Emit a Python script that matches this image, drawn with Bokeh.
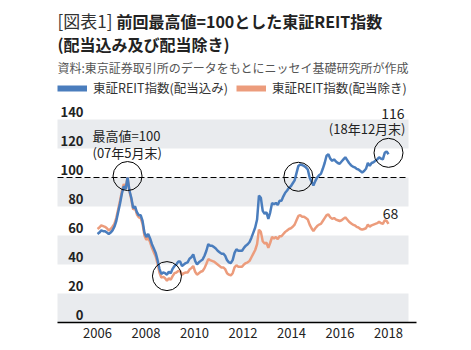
from bokeh.plotting import figure
from bokeh.models import (Range1d, BoxAnnotation, Label, Legend, LegendItem, ColumnDataSource)
from bokeh.core.properties import value
from bokeh.embed import file_html
from bokeh.resources import INLINE

# ---------------- data (monthly, Jan 2006 .. Dec 2018) ----------------
month_index = list(range(156))
with_dividends = [
    61, 62, 63.5, 63, 63, 62, 61, 62, 63.5, 66, 70, 76,
    82, 89, 94, 92, 100, 91, 86, 79, 80, 76, 74, 74,
    70, 62, 59, 61, 58, 54, 51, 48, 43, 37, 33.5, 34.5,
    34, 33, 35, 34, 37, 39, 40, 42, 42, 39, 40, 41,
    41.5, 44, 45, 47, 42.5, 40, 41.5, 42.5, 43.5, 46, 49.5, 54,
    53, 53, 52, 51, 49.5, 48.5, 47.5, 47.5, 46, 43, 41.5, 41,
    43, 48, 50.5, 49.5, 49.5, 49.5, 51.5, 53, 54, 55.5, 58.5, 62,
    65.5, 71, 87.5, 86, 77, 75, 76, 71.5, 76, 82.5, 81.5, 82.5,
    81, 84, 84, 87, 89.5, 91, 93, 94, 96, 98, 103, 108,
    109, 108.5, 108, 107, 105.5, 100, 97, 94.5, 97.5, 100, 101.5, 102.5,
    106, 110, 115, 116, 113, 111.5, 112.5, 111, 110, 109.5, 111, 112.5,
    114, 112, 110, 108.5, 107.5, 107, 106, 105.5, 104.5, 103.5, 104.5, 106,
    110, 108, 110, 110.5, 111.5, 112.5, 114, 113, 112.5, 117, 118, 116,
]
ex_dividends = [
    64.5, 65.5, 67, 66.5, 66, 65, 63.5, 64.5, 66, 68, 72, 78,
    84, 90.5, 95.5, 93, 100, 90.5, 85, 78, 79, 74.5, 72.5, 72,
    68, 60, 57, 58.5, 55.5, 51.5, 48.5, 45.5, 40.5, 34.5, 31, 31.5,
    30.5, 28.8, 30.5, 29.5, 32, 34, 34.5, 35.5, 35.5, 33, 34, 34.5,
    34.5, 36.5, 37.5, 39, 35, 33, 34, 35, 35.5, 37.5, 40.5, 43.7,
    43, 42.5, 42, 41, 40, 39, 38, 38, 36.8, 34, 33, 32.5,
    34, 38, 39.5, 38.5, 38.5, 38.5, 40, 41, 41.5, 42.5, 45, 47.5,
    50, 54, 64, 62.5, 56, 54.5, 55, 51.5, 55, 59, 58, 59,
    57.5, 59.5, 59.5, 61, 62.5, 63.5, 64.5, 65, 66, 67.5, 70.5, 73.5,
    74, 73, 73, 72, 71, 67.5, 65, 63, 65, 66.5, 67.5, 68,
    70, 72, 74, 74.5, 72.5, 71.5, 72, 71, 70.5, 70, 70.5, 71.5,
    72.5, 71, 69.5, 68.5, 67.5, 67, 66, 65.5, 64.5, 64, 64.5, 65,
    67.5, 66, 67, 67.5, 68, 68.5, 69.5, 68.5, 68, 70.5, 70, 68,
]
y_ticks = [0, 20, 40, 60, 80, 100, 120, 140]
year_labels = [2006, 2008, 2010, 2012, 2014, 2016, 2018]
series_names = ["東証REIT指数(配当込み)", "東証REIT指数(配当除き)"]
marked_index = [16, 37, 107, 155]
marked_value = [101, 32, 100.5, 117]
peak_note = ["最高値=100", "(07年5月末)"]
last_note = ["116", "(18年12月末)"]
last_ex_note = "68"

# ---------------- geometry / style ----------------
W, H = 471, 350
FL, FR, FT, FB = 57, 408, 117, 322          # plot-area edges in pixels
AXIS_END = 416
START_PX, END_PX = 97, 388                  # first / last month on screen
PPM = (END_PX - START_PX) / (len(month_index) - 1)
PPU = 1.45                                  # pixels per index point

def px(x):
    return (x - START_PX) / PPM

def py(y):
    return (FB - y) / PPU

FONT = "Noto Sans CJK JP"
BLUE = "#4a7dbd"
ORANGE = "#ec9c7c"
BAND = "#e9ebee"
TXT = "#222222"

p = figure(width=W, height=H, output_backend="svg", toolbar_location=None,
           x_range=Range1d(px(0), px(W)), y_range=Range1d(py(H), py(0)),
           min_border=0, min_border_left=0, min_border_right=0,
           min_border_top=0, min_border_bottom=0)
p.outline_line_color = None
p.xaxis.visible = False
p.yaxis.visible = False
p.xgrid.visible = False
p.ygrid.visible = False
p.background_fill_color = "white"
p.border_fill_color = "white"

# alternating bands
for lo, hi in zip(y_ticks[:-1], y_ticks[1:]):
    if (lo // 20) % 2 == 0:
        p.add_layout(BoxAnnotation(left=px(FL), right=px(FR), bottom=lo, top=hi,
                                   fill_color=BAND, fill_alpha=1, line_alpha=0,
                                   level="underlay"))

# y tick labels, just above each gridline
ysrc = ColumnDataSource(dict(x=[px(83)] * len(y_ticks),
                             y=[t + 5.5 for t in y_ticks],
                             t=[str(t) for t in y_ticks]))
p.text(x="x", y="y", text="t", source=ysrc, text_align="right", text_baseline="middle",
       text_font=value(FONT), text_font_style="bold", text_font_size="13px",
       text_color=TXT)

# x axis line and year labels
p.segment(x0=[px(FL)], y0=[y_ticks[0]], x1=[px(AXIS_END)], y1=[y_ticks[0]],
          line_color="black", line_width=1.5)
xsrc = ColumnDataSource(dict(x=[(y - year_labels[0]) * (len(month_index) - 1) / 12
                                for y in year_labels],
                             y=[py(332)] * len(year_labels),
                             t=[str(y) for y in year_labels]))
p.text(x="x", y="y", text="t", source=xsrc, text_align="center", text_baseline="middle",
       text_font=value(FONT), text_font_size="13px", text_color=TXT)

# 100 reference line
p.segment(x0=[px(FL)], y0=[100], x1=[px(FR)], y1=[100], line_color="black",
          line_width=1.2, line_dash="6 3")

# series
p.line(month_index, ex_dividends, line_color=ORANGE, line_width=2.5)
p.line(month_index, with_dividends, line_color=BLUE, line_width=2.5)

# circles
p.scatter(marked_index, marked_value, marker="circle", size=29, fill_color=None,
          line_color="black", line_width=1)

# legend (swatch-only renderers carry no visible data)
nan = float("nan")
lb = p.line([nan, nan], [nan, nan], line_color=BLUE, line_width=6)
lo_ = p.line([nan, nan], [nan, nan], line_color=ORANGE, line_width=6)
leg = Legend(items=[LegendItem(label=series_names[0], renderers=[lb]),
                    LegendItem(label=series_names[1], renderers=[lo_])],
             orientation="horizontal", location=(FL, H - 97),
             glyph_width=30, glyph_height=14, label_standoff=6, spacing=8,
             padding=0, margin=0, border_line_alpha=0, background_fill_alpha=0,
             label_text_font=FONT, label_text_font_size="12.5px",
             label_text_color="#333333")
p.add_layout(leg, "center")

def label(x, y, text, size, bold=False, color=TXT, align="left"):
    p.add_layout(Label(x=px(x), y=py(y), text=text, text_font=FONT,
                       text_font_size=size, text_font_style="bold" if bold else "normal",
                       text_color=color, text_align=align, text_baseline="middle"))

# titles
label(57, 20, "[図表1]", "17px", False, "#333333")
label(116, 20, "前回最高値=100とした東証REIT指数", "16px", True, "#222222")
label(57, 43, "(配当込み及び配当除き)", "16px", True, "#222222")
label(57, 67, "資料:東京証券取引所のデータをもとにニッセイ基礎研究所が作成", "12px", False, "#555555")

# notes
label(92, 135, peak_note[0], "13px")
label(92, 152, peak_note[1], "13px")
label(404, 113, last_note[0], "14px", align="right")
label(405, 128, last_note[1], "13px", align="right")
label(390, 213, last_ex_note, "14px", align="center")

open("out.html", "w").write(file_html(p, INLINE))
